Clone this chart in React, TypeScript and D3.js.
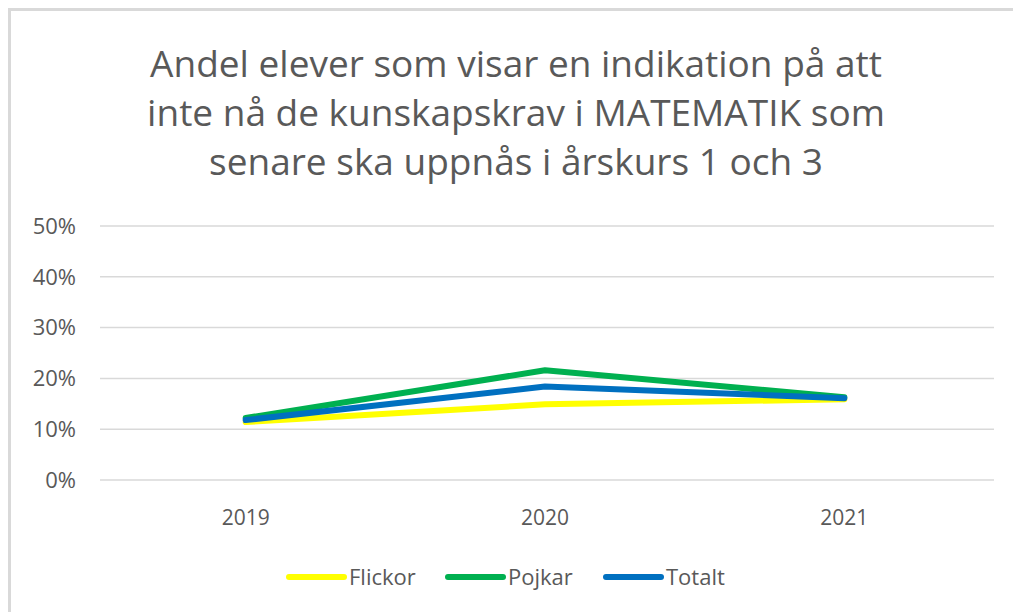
import React from 'react';
import * as d3 from 'd3';

const years = ['2019', '2020', '2021'];
const flickor = [0.114, 0.149, 0.159];
const pojkar = [0.122, 0.216, 0.163];
const totalt = [0.118, 0.184, 0.161];
const yTicks = [0, 0.1, 0.2, 0.3, 0.4, 0.5];
const titleLines = [
  'Andel elever som visar en indikation på att',
  'inte nå de kunskapskrav i MATEMATIK som',
  'senare ska uppnås i årskurs 1 och 3',
];

const series = [
  { name: 'Flickor', values: flickor, color: '#FFFF00' },
  { name: 'Pojkar', values: pojkar, color: '#00B050' },
  { name: 'Totalt', values: totalt, color: '#0070C0' },
];

const W = 1013;
const H = 612;
const font = "'Open Sans', sans-serif";
const textColor = '#595959';

export default function App() {
  const x = d3.scaleBand().domain(years).range([96, 994]);
  const y = d3.scaleLinear().domain([0, 0.5]).range([480, 226]);
  const line = d3
    .line<number>()
    .x((_, i) => x(years[i])! + x.bandwidth() / 2)
    .y((d) => y(d));

  // legend item start x
  const legendX = [286, 445, 603];

  return (
    <svg
      width={W}
      height={H}
      style={{ position: 'fixed', left: 0, top: 0, background: '#fff' }}
    >
      <rect x={0} y={0} width={W} height={H} fill='#fff' />
      <path d={`M9.5,${H} V9.5 H${W}`} fill='none' stroke='#D9D9D9' strokeWidth={3} />

      <g fontFamily={font} fill={textColor} textAnchor='middle' fontSize={37}>
        {titleLines.map((t, i) => (
          <text key={i} x={516} y={77 + i * 49}>
            {t}
          </text>
        ))}
      </g>

      <g>
        {yTicks.map((t) => (
          <g key={t}>
            <line x1={x.range()[0] + 4} x2={x.range()[1]} y1={y(t)} y2={y(t)} stroke='#D9D9D9' strokeWidth={1.5} />
            <text x={76} y={y(t)} dy='0.35em' textAnchor='end' fontFamily={font} fontSize={22} fill={textColor}>
              {d3.format('.0%')(t)}
            </text>
          </g>
        ))}
      </g>

      <g>
        {years.map((yr) => (
          <text key={yr} x={x(yr)! + x.bandwidth() / 2} y={518} dy='0.35em' textAnchor='middle' fontFamily={font} fontSize={21} fill={textColor}>
            {yr}
          </text>
        ))}
      </g>

      <g>
        {series.map((s) => (
          <path key={s.name} d={line(s.values)!} fill='none' stroke={s.color} strokeWidth={6} strokeLinecap='round' strokeLinejoin='round' />
        ))}
      </g>

      <g>
        {series.map((s, i) => (
          <g key={s.name} transform={`translate(${legendX[i]},577)`}>
            <line x1={3} x2={58} y1={0} y2={0} stroke={s.color} strokeWidth={6} strokeLinecap='round' />
            <text x={63} y={0} dy='0.35em' fontFamily={font} fontSize={22} fill={textColor}>
              {s.name}
            </text>
          </g>
        ))}
      </g>
    </svg>
  );
}
